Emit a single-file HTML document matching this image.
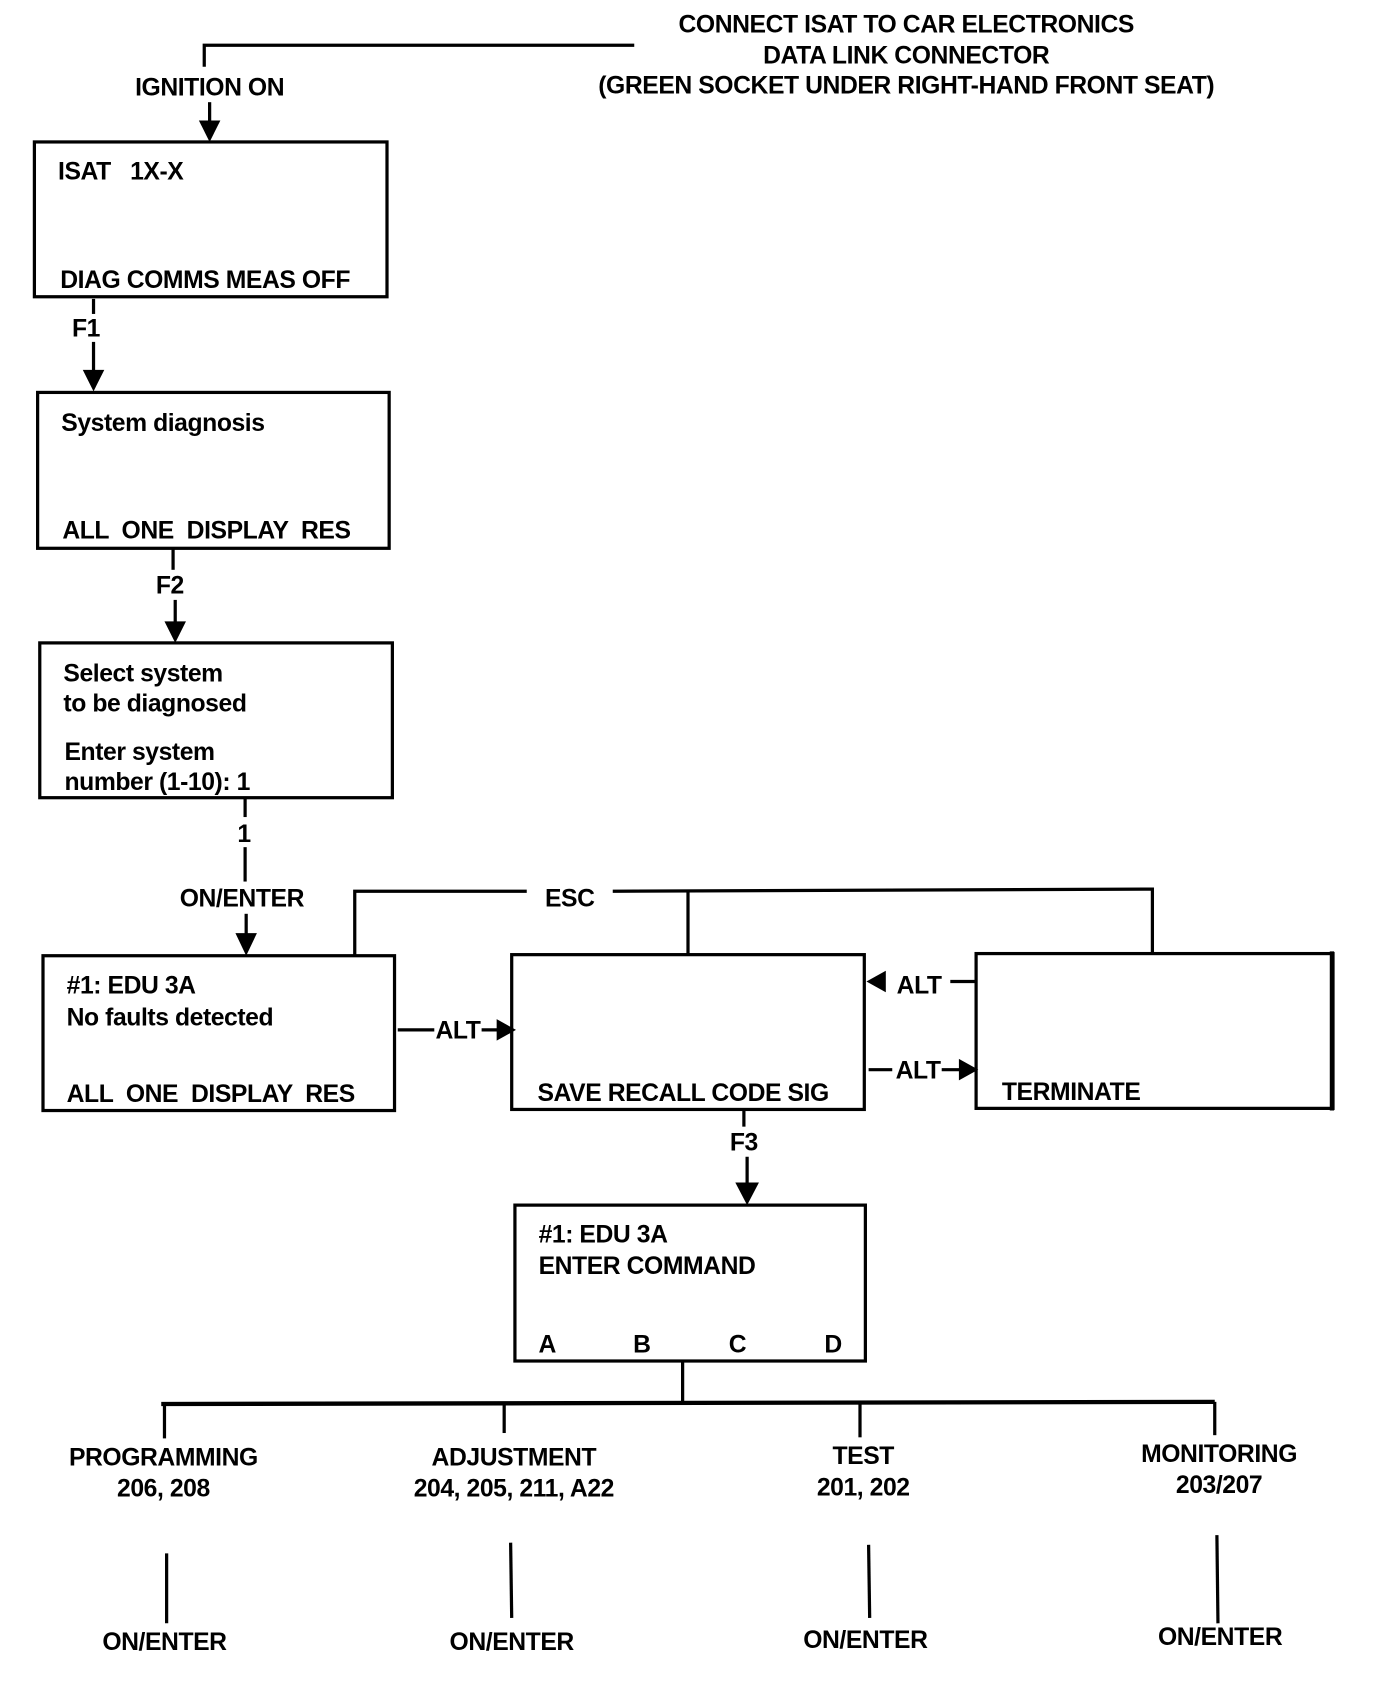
<!DOCTYPE html>
<html><head><meta charset="utf-8"><style>
html,body{margin:0;padding:0;background:#fff}
svg{display:block}
text{font-family:"Liberation Sans Narrow","Liberation Sans",sans-serif;font-weight:bold;font-size:23px;fill:#000;letter-spacing:-0.4px}
.m{text-anchor:middle}
</style></head><body>
<svg width="1376" height="1690" viewBox="0 0 1280 1572" xmlns="http://www.w3.org/2000/svg">
<g stroke="#000" stroke-width="3" fill="none">
<polyline points="190,62 190,42 590,42"/>
<line x1="195" y1="95" x2="195" y2="118"/>
<rect x="32" y="132" width="328" height="144"/>
<rect x="35" y="365" width="327" height="145"/>
<rect x="37" y="598" width="328" height="144"/>
<rect x="40" y="889" width="327" height="144"/>
<rect x="476" y="888" width="328" height="144"/>
<rect x="908" y="887" width="332" height="144"/>
<line x1="1239" y1="885" x2="1239" y2="1033" stroke-width="4"/>
<rect x="479" y="1121" width="326" height="145"/>
<line x1="87" y1="278" x2="87" y2="292"/>
<line x1="87" y1="318" x2="87" y2="350"/>
<line x1="161" y1="510" x2="161" y2="530"/>
<line x1="163" y1="558" x2="163" y2="584"/>
<line x1="228" y1="742" x2="228" y2="760"/>
<line x1="228" y1="788" x2="228" y2="820"/>
<line x1="229" y1="850" x2="229" y2="874"/>
<polyline points="330,888 330,829 490,829"/>
<polyline points="570,829 1072,827 1072,887"/>
<line x1="640" y1="829" x2="640" y2="888"/>
<line x1="370" y1="958" x2="404" y2="958"/>
<line x1="448" y1="958" x2="466" y2="958"/>
<line x1="884" y1="913" x2="908" y2="913"/>
<line x1="808" y1="995" x2="830" y2="995"/>
<line x1="876" y1="995" x2="898" y2="995"/>
<line x1="692" y1="1032" x2="692" y2="1048"/>
<line x1="695" y1="1076" x2="695" y2="1106"/>
<line x1="635" y1="1266" x2="635" y2="1306"/>
<line x1="150" y1="1306" x2="1130" y2="1304" stroke-width="4"/>
<line x1="153" y1="1306" x2="153" y2="1338"/>
<line x1="469" y1="1306" x2="469" y2="1333"/>
<line x1="800" y1="1306" x2="800" y2="1337"/>
<line x1="1130" y1="1304" x2="1130" y2="1335"/>
<line x1="155" y1="1445" x2="155" y2="1510"/>
<line x1="475" y1="1435" x2="476" y2="1505"/>
<line x1="808" y1="1437" x2="809" y2="1505"/>
<line x1="1132" y1="1428" x2="1133" y2="1510"/>
</g>
<g fill="#000">
<polygon points="185,112 205,112 195,132"/>
<polygon points="77,344 97,344 87,364"/>
<polygon points="153,578 173,578 163,598"/>
<polygon points="219,868 239,868 229,889"/>
<polygon points="462,948 462,968 480,958"/>
<polygon points="824,903 824,923 806,913"/>
<polygon points="892,985 892,1005 910,995"/>
<polygon points="684,1100 706,1100 695,1121"/>
</g>
<text class="m" x="843" y="30">CONNECT ISAT TO CAR ELECTRONICS</text>
<text class="m" x="843" y="59">DATA LINK CONNECTOR</text>
<text class="m" x="843" y="87">(GREEN SOCKET UNDER RIGHT-HAND FRONT SEAT)</text>
<text class="m" x="195" y="89">IGNITION ON</text>
<text x="54" y="167">ISAT &#160;&#160;1X-X</text>
<text x="56" y="268">DIAG COMMS MEAS OFF</text>
<text class="m" x="80" y="313">F1</text>
<text x="57" y="401">System diagnosis</text>
<text x="58" y="501">ALL &#160;ONE &#160;DISPLAY &#160;RES</text>
<text class="m" x="158" y="552">F2</text>
<text x="59" y="634">Select system</text>
<text x="59" y="662">to be diagnosed</text>
<text x="60" y="707">Enter system</text>
<text x="60" y="735">number (1-10): 1</text>
<text class="m" x="227" y="783">1</text>
<text class="m" x="225" y="843">ON/ENTER</text>
<text class="m" x="530" y="843">ESC</text>
<text x="62" y="924">#1: EDU 3A</text>
<text x="62" y="954">No faults detected</text>
<text x="62" y="1025">ALL &#160;ONE &#160;DISPLAY &#160;RES</text>
<text class="m" x="426" y="966">ALT</text>
<text class="m" x="855" y="924">ALT</text>
<text class="m" x="854" y="1003">ALT</text>
<text x="500" y="1024">SAVE RECALL CODE SIG</text>
<text x="932" y="1023">TERMINATE</text>
<text class="m" x="692" y="1070">F3</text>
<text x="501" y="1156">#1: EDU 3A</text>
<text x="501" y="1185">ENTER COMMAND</text>
<text class="m" x="509" y="1258">A</text>
<text class="m" x="597" y="1258">B</text>
<text class="m" x="686" y="1258">C</text>
<text class="m" x="775" y="1258">D</text>
<text class="m" x="152" y="1363">PROGRAMMING</text>
<text class="m" x="152" y="1392">206, 208</text>
<text class="m" x="478" y="1363">ADJUSTMENT</text>
<text class="m" x="478" y="1392">204, 205, 211, A22</text>
<text class="m" x="803" y="1362">TEST</text>
<text class="m" x="803" y="1391">201, 202</text>
<text class="m" x="1134" y="1360">MONITORING</text>
<text class="m" x="1134" y="1389">203/207</text>
<text class="m" x="153" y="1535">ON/ENTER</text>
<text class="m" x="476" y="1535">ON/ENTER</text>
<text class="m" x="805" y="1533">ON/ENTER</text>
<text class="m" x="1135" y="1530">ON/ENTER</text>
</svg>
</body></html>
